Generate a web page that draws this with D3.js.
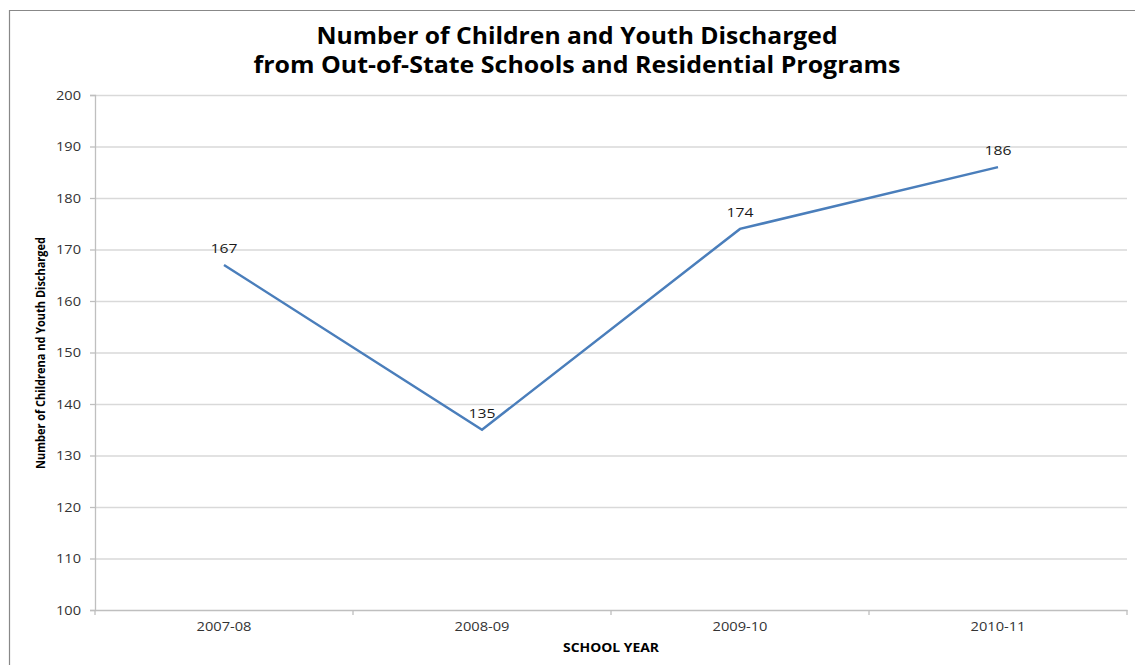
<!DOCTYPE html>
<html><head><meta charset="utf-8">
<script src="https://cdn.jsdelivr.net/npm/d3@7"></script>
<style>body{margin:0;background:#fff;} svg{display:block;}</style>
</head><body>
<svg id="c" width="1135" height="665"></svg>
<script>
const categories = ["2007-08", "2008-09", "2009-10", "2010-11"];
const values = [167, 135, 174, 186];
const yTicks = [100, 110, 120, 130, 140, 150, 160, 170, 180, 190, 200];
const titleLines = ["Number of Children and Youth Discharged", "from Out-of-State Schools and Residential Programs"];
const yLabel = "Number of Childrena nd Youth Discharged";
const xLabel = "SCHOOL YEAR";

const svg = d3.select("#c");
const font = "'Open Sans', 'Liberation Sans', sans-serif";
const L = 95, R = 1127, T = 95, B = 610;

// chart border
svg.append("path").attr("d", "M9.5,665 V10.5 H1135").attr("fill", "none").attr("stroke", "#888").attr("stroke-width", 1.2);

const x = d3.scaleBand().domain(categories).range([L, R]);
const y = d3.scaleLinear().domain([100, 200]).range([B, T]);

// gridlines
svg.append("g").selectAll("line").data(yTicks.filter(t => t > 100)).join("line")
  .attr("x1", L).attr("x2", R).attr("y1", d => y(d) + 0.5).attr("y2", d => y(d) + 0.5)
  .attr("stroke", "#d9d9d9").attr("stroke-width", 1.3);

// y axis
const ya = svg.append("g").attr("transform", `translate(${L},0)`)
  .call(d3.axisLeft(y).tickValues(yTicks).tickSize(5).tickPadding(9).tickFormat(d3.format("d")));
ya.select(".domain").attr("stroke", "#bfbfbf").attr("stroke-width", 1.3);
ya.selectAll(".tick line").attr("stroke", "#bfbfbf").attr("stroke-width", 1.3);
ya.selectAll("text").attr("font-family", font).attr("font-size", 13.5).attr("fill", "#333")
  .attr("textLength", 25).attr("lengthAdjust", "spacingAndGlyphs");

// x axis
const xa = svg.append("g").attr("transform", `translate(0,${B})`)
  .call(d3.axisBottom(x).tickSize(0).tickPadding(12));
xa.select(".domain").attr("stroke", "#bfbfbf").attr("stroke-width", 1.6);
xa.selectAll("text").attr("font-family", font).attr("font-size", 13).attr("fill", "#333")
  .attr("textLength", 55).attr("lengthAdjust", "spacingAndGlyphs");
// category boundary ticks
xa.append("g").selectAll("line").data(d3.range(categories.length + 1)).join("line")
  .attr("x1", i => L + i * x.step()).attr("x2", i => L + i * x.step())
  .attr("y1", 0).attr("y2", 5).attr("stroke", "#bfbfbf").attr("stroke-width", 1.3);

// line
const pts = categories.map((c, i) => [x(c) + x.bandwidth() / 2, y(values[i])]);
svg.append("path").attr("d", d3.line()(pts)).attr("fill", "none")
  .attr("stroke", "#4a7ebb").attr("stroke-width", 2.5).attr("stroke-linejoin", "miter");

// data labels
svg.append("g").selectAll("text").data(values).join("text")
  .attr("x", (d, i) => pts[i][0]).attr("y", (d, i) => pts[i][1] - 12)
  .attr("text-anchor", "middle").attr("font-family", font).attr("font-size", 13.5).attr("fill", "#1a1a1a")
  .attr("textLength", 27).attr("lengthAdjust", "spacingAndGlyphs")
  .text(d => d);

// title
const titleLen = [521, 647];
svg.append("g").selectAll("text").data(titleLines).join("text")
  .attr("x", 577).attr("y", (d, i) => 44 + i * 29)
  .attr("text-anchor", "middle").attr("font-family", font).attr("font-weight", "bold")
  .attr("font-size", 22.5).attr("fill", "#000")
  .attr("textLength", (d, i) => titleLen[i]).attr("lengthAdjust", "spacingAndGlyphs")
  .text(d => d);

// y label
svg.append("text").attr("transform", "translate(45,353) rotate(-90)")
  .attr("text-anchor", "middle").attr("font-family", font).attr("font-weight", "bold")
  .attr("font-size", 12).attr("textLength", 232).attr("lengthAdjust", "spacingAndGlyphs")
  .attr("fill", "#000").text(yLabel);

// x label
svg.append("text").attr("x", 611).attr("y", 652).attr("text-anchor", "middle")
  .attr("font-family", font).attr("font-weight", "bold").attr("font-size", 11.5)
  .attr("textLength", 96).attr("lengthAdjust", "spacingAndGlyphs")
  .attr("fill", "#000").text(xLabel);
</script>
</body></html>
